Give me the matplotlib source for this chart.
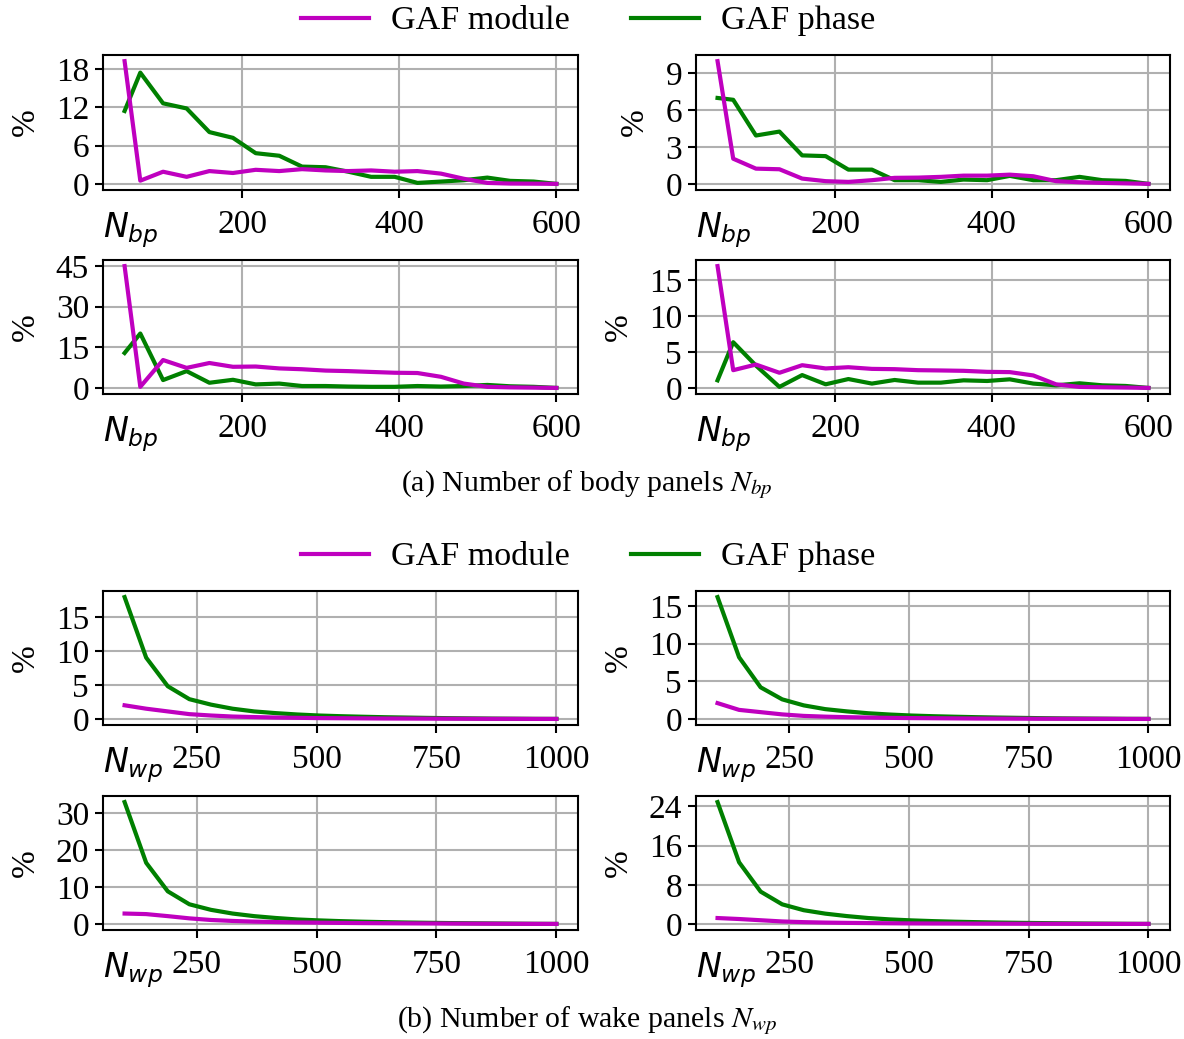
import matplotlib
matplotlib.use("Agg")
import matplotlib.pyplot as plt
from matplotlib.lines import Line2D

plt.rcParams['font.family'] = ['Liberation Serif', 'DejaVu Serif']
plt.rcParams['mathtext.fontset'] = 'dejavusans'

# ---------------- data ----------------
x_body = [50, 70, 99, 129, 158, 188, 217, 247, 276, 306, 335, 364, 394, 423, 453, 482, 512, 541, 571, 600]
x_wake = [100, 145, 190, 235, 280, 325, 370, 415, 460, 505, 550, 595, 640, 685, 730, 775, 820, 865, 910, 955, 1000]

body_mod_1 = [19.2, 0.5, 1.9, 1.1, 2.0, 1.7, 2.2, 2.0, 2.3, 2.1, 2.0, 2.1, 1.9, 2.0, 1.6, 0.8, 0.15, 0.05, 0.03, 0.0]
body_phase_1 = [11.4, 17.4, 12.6, 11.8, 8.1, 7.2, 4.8, 4.4, 2.7, 2.6, 1.9, 1.1, 1.1, 0.15, 0.36, 0.57, 0.98, 0.47, 0.36, 0.0]
body_mod_2 = [10.0, 2.05, 1.24, 1.19, 0.43, 0.22, 0.16, 0.3, 0.49, 0.51, 0.57, 0.67, 0.67, 0.75, 0.62, 0.22, 0.13, 0.08, 0.04, 0.0]
body_phase_2 = [7.0, 6.85, 3.94, 4.26, 2.32, 2.26, 1.16, 1.16, 0.3, 0.3, 0.16, 0.35, 0.3, 0.65, 0.3, 0.3, 0.57, 0.3, 0.24, 0.0]
body_mod_3 = [45.0, 0.4, 10.3, 7.4, 9.2, 7.8, 7.9, 7.2, 6.9, 6.4, 6.2, 5.9, 5.6, 5.5, 4.1, 1.6, 0.4, 0.2, 0.1, 0.0]
body_phase_3 = [12.9, 20.1, 2.9, 6.2, 1.9, 3.0, 1.3, 1.6, 0.7, 0.7, 0.5, 0.4, 0.4, 0.7, 0.5, 0.7, 1.1, 0.6, 0.4, 0.0]
body_mod_4 = [16.9, 2.46, 3.24, 2.1, 3.15, 2.7, 2.87, 2.64, 2.6, 2.46, 2.42, 2.37, 2.23, 2.19, 1.73, 0.5, 0.14, 0.09, 0.05, 0.0]
body_phase_4 = [1.05, 6.34, 3.1, 0.14, 1.78, 0.5, 1.23, 0.6, 1.1, 0.73, 0.73, 1.05, 0.96, 1.19, 0.6, 0.36, 0.64, 0.36, 0.27, 0.0]

wake_phase_1 = [17.9, 9.0, 4.8, 2.9, 2.1, 1.5, 1.1, 0.85, 0.65, 0.5, 0.4, 0.32, 0.25, 0.2, 0.15, 0.11, 0.08, 0.05, 0.03, 0.01, 0.0]
wake_mod_1 = [2.0, 1.5, 1.1, 0.7, 0.5, 0.35, 0.27, 0.2, 0.16, 0.12, 0.1, 0.08, 0.06, 0.05, 0.04, 0.03, 0.02, 0.01, 0.01, 0.0, 0.0]
wake_phase_2 = [16.2, 8.2, 4.2, 2.6, 1.8, 1.3, 1.0, 0.75, 0.58, 0.45, 0.36, 0.29, 0.23, 0.18, 0.14, 0.1, 0.07, 0.05, 0.03, 0.01, 0.0]
wake_mod_2 = [2.1, 1.2, 0.9, 0.6, 0.4, 0.3, 0.23, 0.18, 0.14, 0.11, 0.09, 0.07, 0.05, 0.04, 0.03, 0.02, 0.02, 0.01, 0.01, 0.0, 0.0]
wake_phase_3 = [32.9, 16.5, 8.8, 5.3, 3.8, 2.8, 2.1, 1.6, 1.2, 0.95, 0.75, 0.6, 0.48, 0.38, 0.3, 0.23, 0.17, 0.12, 0.07, 0.03, 0.0]
wake_mod_3 = [2.8, 2.65, 2.1, 1.5, 1.06, 0.8, 0.62, 0.5, 0.4, 0.33, 0.27, 0.22, 0.18, 0.15, 0.12, 0.09, 0.07, 0.05, 0.03, 0.01, 0.0]
wake_phase_4 = [24.9, 12.6, 6.6, 4.0, 2.8, 2.1, 1.6, 1.2, 0.92, 0.72, 0.57, 0.45, 0.36, 0.28, 0.22, 0.17, 0.12, 0.08, 0.05, 0.02, 0.0]
wake_mod_4 = [1.2, 1.0, 0.75, 0.5, 0.36, 0.27, 0.21, 0.17, 0.13, 0.1, 0.08, 0.07, 0.05, 0.04, 0.03, 0.02, 0.02, 0.01, 0.01, 0.0, 0.0]

body_yticks = [[0, 6, 12, 18], [0, 3, 6, 9], [0, 15, 30, 45], [0, 5, 10, 15]]
wake_yticks = [[0, 5, 10, 15], [0, 5, 10, 15], [0, 10, 20, 30], [0, 8, 16, 24]]
body_xticks = [200, 400, 600]
wake_xticks = [250, 500, 750, 1000]

series_labels = ["GAF module", "GAF phase"]
captions = ["(a) Number of body panels $N_{bp}$", "(b) Number of wake panels $N_{wp}$"]
xnames = ["$N_{bp}$", "$N_{wp}$"]

C_MOD = "#bf00bf"
C_PH = "#008000"

W, H = 1184, 1039
fig = plt.figure(figsize=(W / 100, H / 100), dpi=100)

def px_axes(left, top, right, bottom):
    return fig.add_axes([left / W, 1 - bottom / H, (right - left) / W, (bottom - top) / H])

cols = [(103, 578), (696, 1170)]
rows = [(55, 190), (260, 394), (591, 725), (796, 930)]

FS = 24
LW = 3.0

def draw(ax, x, mod, ph, yt, xt, xname):
    ax.plot(x, ph, color=C_PH, lw=LW, zorder=2)
    ax.plot(x, mod, color=C_MOD, lw=LW, zorder=3)
    ax.set_yticks(yt)
    ax.set_xticks(xt)
    ax.grid(True, color="#b0b0b0", lw=1.5)
    ax.set_axisbelow(True)
    for s in ax.spines.values():
        s.set_linewidth(1.5)
    ax.tick_params(axis="both", labelsize=FS, length=6, width=1.5, pad=4)
    ax.tick_params(axis="x", pad=8)
    ax.set_ylabel("%", fontsize=FS, labelpad=11)
    ax.text(0.0, -0.15, xname, transform=ax.transAxes, fontsize=FS,
            ha="left", va="top", math_fontfamily="dejavusans")

body_sets = [(body_mod_1, body_phase_1), (body_mod_2, body_phase_2),
             (body_mod_3, body_phase_3), (body_mod_4, body_phase_4)]
wake_sets = [(wake_mod_1, wake_phase_1), (wake_mod_2, wake_phase_2),
             (wake_mod_3, wake_phase_3), (wake_mod_4, wake_phase_4)]

for i, (mod, ph) in enumerate(body_sets):
    r, c = divmod(i, 2)
    ax = px_axes(cols[c][0], rows[r][0], cols[c][1], rows[r][1])
    draw(ax, x_body, mod, ph, body_yticks[i], body_xticks, xnames[0])

for i, (mod, ph) in enumerate(wake_sets):
    r, c = divmod(i, 2)
    ax = px_axes(cols[c][0], rows[r + 2][0], cols[c][1], rows[r + 2][1])
    draw(ax, x_wake, mod, ph, wake_yticks[i], wake_xticks, xnames[1])

handles = [Line2D([], [], color=C_MOD, lw=LW), Line2D([], [], color=C_PH, lw=LW)]
for ly in (21, 557):
    fig.legend(handles, series_labels, loc="center", bbox_to_anchor=(588 / W, 1 - ly / H),
               ncol=2, frameon=False, fontsize=24.5, handlelength=2.0, handletextpad=0.65,
               columnspacing=1.8)

for cap, cy in zip(captions, (485, 1021)):
    fig.text(587 / W, 1 - cy / H, cap, ha="center", va="center", fontsize=21.5,
             math_fontfamily="stix")

fig.savefig("out.png", dpi=100)
